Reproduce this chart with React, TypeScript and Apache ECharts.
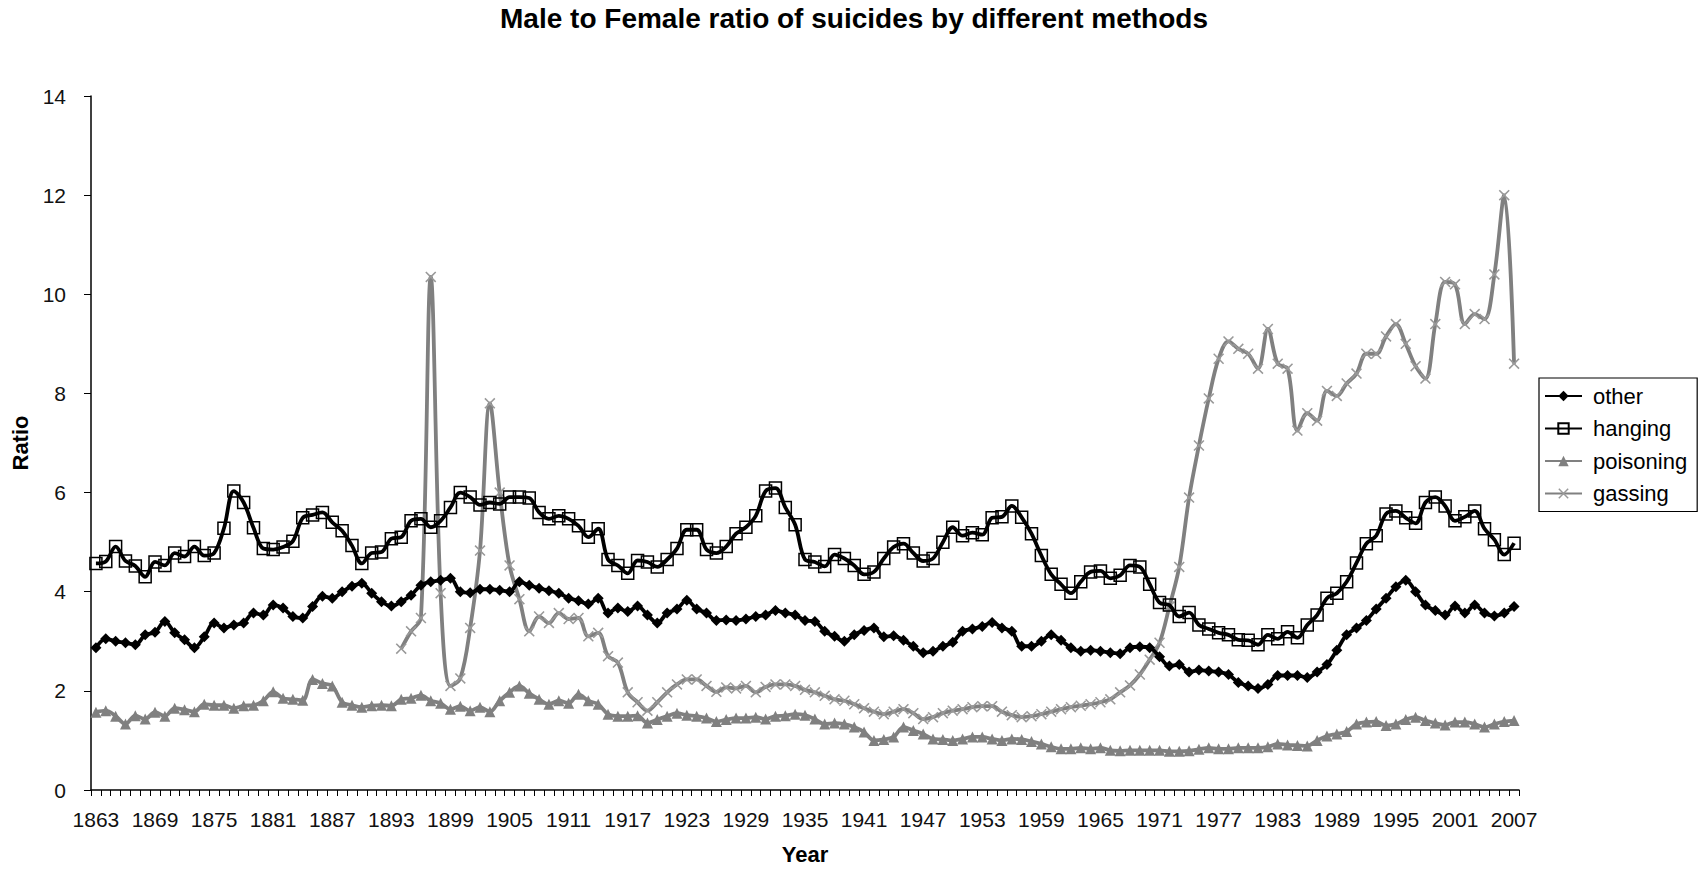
import React, { useEffect, useRef } from "react";
import * as echarts from "echarts";

const years: string[] = [];
for (let y = 1863; y <= 2007; y++) years.push(String(y));

const otherValues = [
  2.87, 3.05, 3.0, 2.97, 2.93, 3.13, 3.18, 3.4, 3.17, 3.03,
  2.87, 3.09, 3.37, 3.27, 3.33, 3.37, 3.57, 3.53, 3.73, 3.67,
  3.5, 3.47, 3.7, 3.91, 3.87, 4.0, 4.11, 4.17, 3.97, 3.8,
  3.71, 3.8, 3.93, 4.13, 4.2, 4.23, 4.27, 4.0, 3.98, 4.05,
  4.05, 4.03, 4.0, 4.2, 4.13, 4.07, 4.02, 3.97, 3.87, 3.82,
  3.75, 3.87, 3.57, 3.67, 3.6, 3.71, 3.53, 3.37, 3.57, 3.65,
  3.83, 3.65, 3.57, 3.42, 3.43, 3.42, 3.45, 3.5, 3.53, 3.62,
  3.57, 3.53, 3.42, 3.4, 3.2, 3.1, 3.0, 3.13, 3.22, 3.27,
  3.09, 3.11, 3.02, 2.9, 2.77, 2.8, 2.9, 2.98, 3.2, 3.25,
  3.3, 3.38, 3.27, 3.2, 2.9, 2.9, 3.0, 3.13, 3.02, 2.87,
  2.8, 2.82, 2.8, 2.77, 2.75, 2.87, 2.89, 2.87, 2.69, 2.5,
  2.53, 2.38, 2.42, 2.4, 2.38, 2.33, 2.17, 2.1, 2.05, 2.13,
  2.31, 2.31, 2.31, 2.27, 2.38, 2.53, 2.82, 3.13, 3.27, 3.42,
  3.65, 3.87, 4.1, 4.23, 4.0, 3.73, 3.62, 3.53, 3.71, 3.57,
  3.73, 3.57, 3.51, 3.57, 3.7,
];

const hangingValues = [
  4.57, 4.61, 4.91, 4.62, 4.52, 4.3, 4.6, 4.53, 4.78, 4.71,
  4.91, 4.73, 4.78, 5.28, 6.03, 5.8, 5.29, 4.87, 4.85, 4.9,
  5.02, 5.49, 5.55, 5.6, 5.4, 5.23, 4.93, 4.57, 4.78, 4.8,
  5.07, 5.1, 5.43, 5.47, 5.3, 5.43, 5.7, 6.0, 5.91, 5.75,
  5.8, 5.77, 5.91, 5.91, 5.89, 5.6, 5.47, 5.53, 5.47, 5.33,
  5.1, 5.27, 4.65, 4.53, 4.37, 4.63, 4.6, 4.5, 4.65, 4.87,
  5.25, 5.25, 4.85, 4.78, 4.91, 5.17, 5.3, 5.53, 6.03, 6.09,
  5.7, 5.35, 4.65, 4.6, 4.51, 4.75, 4.67, 4.53, 4.35, 4.4,
  4.67, 4.9, 4.97, 4.78, 4.62, 4.67, 5.0, 5.3, 5.13, 5.19,
  5.15, 5.49, 5.51, 5.73, 5.5, 5.17, 4.73, 4.35, 4.15, 3.97,
  4.2, 4.4, 4.42, 4.27, 4.33, 4.53, 4.5, 4.15, 3.78, 3.73,
  3.5, 3.58, 3.33, 3.25, 3.17, 3.13, 3.03, 3.02, 2.93, 3.13,
  3.05, 3.19, 3.07, 3.33, 3.53, 3.87, 3.97, 4.2, 4.58, 4.97,
  5.13, 5.57, 5.63, 5.49, 5.38, 5.8, 5.91, 5.73, 5.43, 5.51,
  5.63, 5.27, 5.05, 4.75, 4.98,
];

const poisoningValues = [
  1.57, 1.6, 1.49, 1.33, 1.5, 1.43, 1.57, 1.49, 1.65, 1.62,
  1.58, 1.73, 1.71, 1.71, 1.65, 1.7, 1.71, 1.8, 1.98, 1.85,
  1.83, 1.81, 2.23, 2.15, 2.1, 1.77, 1.71, 1.67, 1.7, 1.71,
  1.7, 1.83, 1.85, 1.91, 1.8, 1.75, 1.63, 1.69, 1.6, 1.67,
  1.58, 1.8, 1.97, 2.1, 1.95, 1.83, 1.73, 1.8, 1.75, 1.93,
  1.8, 1.73, 1.53, 1.49, 1.49, 1.5, 1.35, 1.42, 1.49, 1.55,
  1.51, 1.49, 1.45, 1.38, 1.42, 1.45, 1.45, 1.47, 1.43, 1.49,
  1.5, 1.53, 1.51, 1.43, 1.33, 1.35, 1.33, 1.27, 1.17, 1.0,
  1.02, 1.07, 1.27, 1.2, 1.13, 1.03, 1.02, 1.0, 1.03, 1.07,
  1.07, 1.03, 1.0, 1.03, 1.02, 0.98, 0.93, 0.87, 0.83, 0.83,
  0.85, 0.83, 0.85, 0.8, 0.79, 0.8, 0.8, 0.8, 0.8, 0.78,
  0.78, 0.79, 0.82, 0.85, 0.83, 0.83, 0.85, 0.85, 0.85, 0.87,
  0.93, 0.91, 0.9, 0.89, 1.0, 1.09, 1.13, 1.18, 1.33, 1.37,
  1.38, 1.3, 1.33, 1.42, 1.47, 1.4, 1.35, 1.31, 1.37, 1.37,
  1.33, 1.27, 1.33, 1.38, 1.4,
];

// gassing: no data before 1894
const gassingValues: (number | null)[] = [
  null, null, null, null, null, null, null, null, null, null,
  null, null, null, null, null, null, null, null, null, null,
  null, null, null, null, null, null, null, null, null, null,
  null, 2.85, 3.2, 3.47, 10.35, 3.97, 2.1, 2.25, 3.27, 4.83,
  7.8, 6.0, 4.53, 3.85, 3.2, 3.5, 3.37, 3.57, 3.45, 3.47,
  3.1, 3.17, 2.7, 2.57, 1.97, 1.77, 1.6, 1.77, 1.97, 2.13,
  2.23, 2.23, 2.1, 1.98, 2.07, 2.05, 2.1, 1.97, 2.08, 2.13,
  2.13, 2.1, 2.02, 1.97, 1.9, 1.83, 1.8, 1.73, 1.65, 1.58,
  1.53, 1.58, 1.63, 1.55, 1.43, 1.47, 1.55, 1.6, 1.63, 1.67,
  1.69, 1.69, 1.58, 1.51, 1.47, 1.49, 1.53, 1.58, 1.63, 1.67,
  1.7, 1.73, 1.77, 1.83, 1.97, 2.11, 2.33, 2.63, 2.97, 3.7,
  4.5, 5.9, 6.95, 7.9, 8.7, 9.05, 8.9, 8.8, 8.5, 9.3,
  8.6, 8.5, 7.25, 7.6, 7.45, 8.05, 7.95, 8.2, 8.4, 8.8,
  8.8, 9.15, 9.4, 9.0, 8.55, 8.3, 9.4, 10.25, 10.2, 9.4,
  9.6, 9.5, 10.4, 12.0, 8.6,
];

const FONT = "Liberation Sans, Arial, sans-serif";
const GRAY = "#808080";
const CROSS =
  "path://M0,1L1,0L5,4L9,0L10,1L6,5L10,9L9,10L5,6L1,10L0,9L4,5Z";

export default function App() {
  const ref = useRef<HTMLDivElement>(null);
  useEffect(() => {
    document.body.style.margin = "0";
    if (!ref.current) return;
    const chart = echarts.init(ref.current, undefined, { renderer: "svg" });
    chart.setOption({
      animation: false,
      backgroundColor: "#ffffff",
      title: {
        text: "Male to Female ratio of suicides by different methods",
        left: "center",
        top: 4,
        padding: 0,
        textStyle: { fontFamily: FONT, fontSize: 28, fontWeight: "bold", color: "#000" },
      },
      legend: {
        orient: "vertical",
        left: 1539,
        top: 378,
        padding: [7, 10, 7, 5],
        itemGap: 10.5,
        itemWidth: 37,
        itemHeight: 13,
        borderColor: "#000",
        borderWidth: 1.2,
        textStyle: {
          fontFamily: FONT,
          fontSize: 22,
          lineHeight: 22,
          color: "#000",
          padding: [0, 0, 0, 6],
        },
        data: ["other", "hanging", "poisoning", "gassing"],
      },
      grid: { left: 91, right: 189, top: 96, bottom: 72, containLabel: false },
      xAxis: {
        type: "category",
        data: years,
        boundaryGap: true,
        name: "Year",
        nameLocation: "middle",
        nameGap: 53,
        nameTextStyle: { fontFamily: FONT, fontSize: 22, fontWeight: "bold", color: "#000" },
        axisLine: { lineStyle: { color: "#000", width: 1.5 } },
        axisTick: { show: true, interval: 0, length: 6, lineStyle: { color: "#000" } },
        axisLabel: {
          interval: 5,
          fontFamily: FONT,
          fontSize: 21,
          color: "#111",
          margin: 19,
        },
        splitLine: { show: false },
      },
      yAxis: {
        type: "value",
        min: 0,
        max: 14,
        interval: 2,
        name: "Ratio",
        nameLocation: "middle",
        nameRotate: 90,
        nameGap: 60,
        nameTextStyle: { fontFamily: FONT, fontSize: 22, fontWeight: "bold", color: "#000" },
        axisLine: { show: true, lineStyle: { color: "#000", width: 1.5 } },
        axisTick: { show: true, length: 7, lineStyle: { color: "#000" } },
        axisLabel: { fontFamily: FONT, fontSize: 21, color: "#111", margin: 25 },
        splitLine: { show: false },
      },
      series: [
        {
          name: "other",
          type: "line",
          data: otherValues,
          smooth: 0.35,
          showAllSymbol: true,
          symbol: "diamond",
          symbolSize: 11,
          itemStyle: { color: "#000" },
          lineStyle: { color: "#000", width: 3.8 },
          z: 4,
        },
        {
          name: "hanging",
          type: "line",
          data: hangingValues,
          smooth: 0.35,
          showAllSymbol: true,
          symbol: "rect",
          symbolSize: 12,
          itemStyle: { color: "rgba(0,0,0,0)", borderColor: "#000", borderWidth: 1.5 },
          lineStyle: { color: "#000", width: 3.8 },
          z: 5,
        },
        {
          name: "poisoning",
          type: "line",
          data: poisoningValues,
          smooth: 0.35,
          showAllSymbol: true,
          symbol: "triangle",
          symbolSize: 11,
          itemStyle: { color: GRAY },
          lineStyle: { color: GRAY, width: 3.8 },
          z: 3,
        },
        {
          name: "gassing",
          type: "line",
          data: gassingValues,
          smooth: 0.35,
          connectNulls: false,
          showAllSymbol: true,
          symbol: CROSS,
          symbolSize: 11,
          itemStyle: { color: "#999999" },
          lineStyle: { color: GRAY, width: 3.8 },
          z: 2,
        },
      ],
    });
    return () => chart.dispose();
  }, []);
  return <div ref={ref} style={{ width: 1708, height: 870 }} />;
}
